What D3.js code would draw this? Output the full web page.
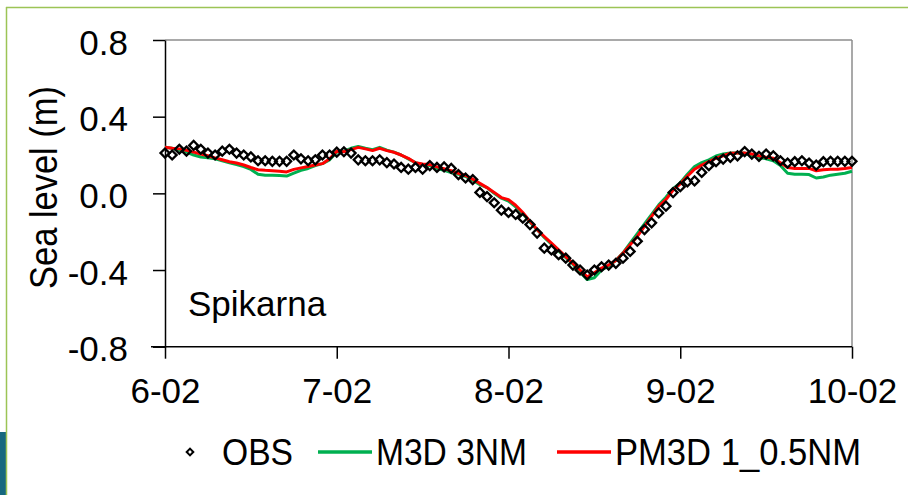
<!DOCTYPE html>
<html><head><meta charset="utf-8">
<script src="https://cdn.jsdelivr.net/npm/d3@7"></script>
<style>
html,body{margin:0;padding:0;background:#fff;}
svg{display:block;font-family:"Liberation Sans",Arial,sans-serif;}
</style></head>
<body>
<svg id="chart" width="908" height="495"></svg>
<script>
// hours since 6-02 00:00, hourly
const hours = d3.range(0, 97);
const xTickValues = [0, 24, 48, 72, 96];
const xTickLabels = ["6-02", "7-02", "8-02", "9-02", "10-02"];
const yTickValues = [0.8, 0.4, 0.0, -0.4, -0.8];
const yTickLabels = ["0.8", "0.4", "0.0", "-0.4", "-0.8"];
const seriesNames = ["OBS", "M3D 3NM", "PM3D 1_0.5NM"];
const stationName = "Spikarna";
const yAxisTitle = "Sea level (m)";

const obs = [
 0.21,0.20,0.23,0.22,0.25,0.23,0.21,0.20,0.22,0.23,0.21,0.20,
 0.19,0.17,0.17,0.167,0.167,0.167,0.20,0.18,0.17,0.175,0.20,0.20,
 0.215,0.217,0.21,0.175,0.17,0.17,0.175,0.16,0.153,0.135,0.126,0.135,
 0.126,0.145,0.135,0.138,0.13,0.098,0.08,0.072,0.005,-0.017,-0.049,-0.088,
 -0.1,-0.11,-0.13,-0.163,-0.207,-0.286,-0.295,-0.32,-0.338,-0.374,-0.4,-0.426,
 -0.4,-0.383,-0.374,-0.365,-0.338,-0.303,-0.25,-0.189,-0.154,-0.102,-0.067,0.004,
 0.035,0.06,0.065,0.109,0.144,0.165,0.179,0.188,0.196,0.218,0.205,0.193,
 0.205,0.196,0.17,0.158,0.165,0.17,0.158,0.147,0.165,0.167,0.167,0.167,
 0.167];

const m3d = [
 0.24,0.235,0.225,0.215,0.2,0.19,0.185,0.18,0.17,0.16,0.15,0.14,
 0.125,0.1,0.095,0.095,0.093,0.09,0.105,0.12,0.13,0.145,0.155,0.175,
 0.215,0.22,0.235,0.245,0.235,0.228,0.24,0.225,0.215,0.2,0.18,0.16,
 0.15,0.145,0.13,0.12,0.108,0.1,0.088,0.068,0.045,0.03,0.0,-0.025,
 -0.04,-0.07,-0.105,-0.15,-0.19,-0.23,-0.265,-0.3,-0.335,-0.37,-0.41,-0.45,
 -0.44,-0.4,-0.38,-0.35,-0.31,-0.26,-0.21,-0.16,-0.11,-0.06,-0.02,0.025,
 0.055,0.1,0.14,0.16,0.175,0.195,0.205,0.21,0.21,0.21,0.195,0.188,
 0.18,0.17,0.145,0.105,0.1,0.1,0.098,0.08,0.085,0.095,0.1,0.105,
 0.115];

const pm3d = [
 0.24,0.235,0.232,0.225,0.215,0.205,0.196,0.185,0.175,0.165,0.158,0.148,
 0.135,0.123,0.12,0.118,0.115,0.112,0.125,0.133,0.14,0.148,0.155,0.18,
 0.22,0.217,0.228,0.24,0.232,0.223,0.235,0.223,0.214,0.2,0.183,0.16,
 0.153,0.15,0.138,0.128,0.118,0.105,0.093,0.074,0.052,0.03,0.005,-0.022,
 -0.033,-0.062,-0.1,-0.146,-0.189,-0.225,-0.26,-0.295,-0.33,-0.365,-0.4,-0.435,
 -0.414,-0.39,-0.374,-0.35,-0.312,-0.268,-0.225,-0.172,-0.12,-0.067,-0.032,0.017,
 0.05,0.09,0.126,0.147,0.165,0.183,0.196,0.209,0.21,0.21,0.205,0.196,
 0.188,0.183,0.16,0.135,0.13,0.13,0.13,0.118,0.123,0.126,0.126,0.13,
 0.135];

const svg = d3.select("#chart");

// slide frame
svg.append("rect").attr("x",0).attr("y",432).attr("width",6).attr("height",63).attr("fill","#17687f");
svg.append("line").attr("x1",6.5).attr("x2",6.5).attr("y1",7).attr("y2",495).attr("stroke","#9cc456").attr("stroke-width",1.5);
svg.append("line").attr("x1",6).attr("x2",908).attr("y1",7.5).attr("y2",7.5).attr("stroke","#9cc456").attr("stroke-width",1.5);

const x = d3.scaleLinear().domain([0, 96]).range([165, 852]);
const y = d3.scaleLinear().domain([-0.8, 0.8]).range([346.7, 40]);

// frame (top/right gray)
svg.append("line").attr("x1",x(0)).attr("x2",x(96)).attr("y1",y(0.8)).attr("y2",y(0.8)).attr("stroke","#8c8c8c").attr("stroke-width",1.5);
svg.append("line").attr("x1",x(96)).attr("x2",x(96)).attr("y1",y(0.8)).attr("y2",y(-0.8)).attr("stroke","#8c8c8c").attr("stroke-width",1.5);

// axes
const yAxis = d3.axisLeft(y).tickValues(yTickValues)
  .tickFormat((d,i)=>yTickLabels[i]).tickSizeInner(12).tickSizeOuter(0).tickPadding(25);
const gy = svg.append("g").attr("transform",`translate(${x(0)},0)`).call(yAxis);
gy.select(".domain").attr("stroke","#000").attr("stroke-width",1.5);
gy.selectAll(".tick line").attr("stroke","#000").attr("stroke-width",1.5);
gy.selectAll(".tick text").attr("font-size",35).attr("fill","#000")
  .attr("font-family","'Liberation Sans',Arial,sans-serif").attr("dy","0.4em");

const xAxis = d3.axisBottom(x).tickValues(xTickValues)
  .tickFormat((d,i)=>xTickLabels[i]).tickSizeInner(12).tickSizeOuter(0).tickPadding(19);
const gx = svg.append("g").attr("transform",`translate(0,${y(-0.8)})`).call(xAxis);
gx.select(".domain").attr("stroke","#000").attr("stroke-width",1.5)
  .attr("d",`M${x(0)-14},0H${x(96)}`);
gx.selectAll(".tick line").attr("stroke","#000").attr("stroke-width",1.5);
gx.selectAll(".tick text").attr("font-size",35).attr("fill","#000")
  .attr("font-family","'Liberation Sans',Arial,sans-serif");

// y axis title
svg.append("text").attr("transform",`translate(57,${187.5}) rotate(-90)`)
  .attr("text-anchor","middle").attr("font-size",38)
  .attr("textLength",203).attr("lengthAdjust","spacingAndGlyphs")
  .attr("fill","#000").text(yAxisTitle);

// station
svg.append("text").attr("x",188).attr("y",316).attr("font-size",35).attr("fill","#000").text(stationName);

// lines
const line = arr => d3.line().x((d,i)=>x(hours[i])).y(d=>y(d))(arr);
svg.append("path").attr("d",line(m3d)).attr("fill","none").attr("stroke","#00b050").attr("stroke-width",3).attr("stroke-linejoin","round");
svg.append("path").attr("d",line(pm3d)).attr("fill","none").attr("stroke","#ff0000").attr("stroke-width",3).attr("stroke-linejoin","round");

// obs diamonds
const sq = d3.symbol().type(d3.symbolSquare).size(40);
svg.append("g").selectAll("path").data(obs).join("path")
  .attr("d", sq)
  .attr("transform",(d,i)=>`translate(${x(hours[i])},${y(d)}) rotate(45)`)
  .attr("fill","none").attr("stroke","#000").attr("stroke-width",2.3);

// legend
const lg = svg.append("g").attr("font-size",36).attr("fill","#000");
const legY = 452;
lg.append("path").attr("d", d3.symbol().type(d3.symbolSquare).size(22)())
  .attr("transform",`translate(190,${legY}) rotate(45)`).attr("fill","none").attr("stroke","#000").attr("stroke-width",2);
lg.append("text").attr("x",222).attr("y",legY+13).attr("textLength",71).attr("lengthAdjust","spacingAndGlyphs").text(seriesNames[0]);
lg.append("line").attr("x1",318).attr("x2",372).attr("y1",legY).attr("y2",legY).attr("stroke","#00b050").attr("stroke-width",3.5);
lg.append("text").attr("x",376).attr("y",legY+13).attr("textLength",151).attr("lengthAdjust","spacingAndGlyphs").text(seriesNames[1]);
lg.append("line").attr("x1",557).attr("x2",611).attr("y1",legY).attr("y2",legY).attr("stroke","#ff0000").attr("stroke-width",3.5);
lg.append("text").attr("x",615).attr("y",legY+13).attr("textLength",246).attr("lengthAdjust","spacingAndGlyphs").text(seriesNames[2]);
</script>
</body></html>
